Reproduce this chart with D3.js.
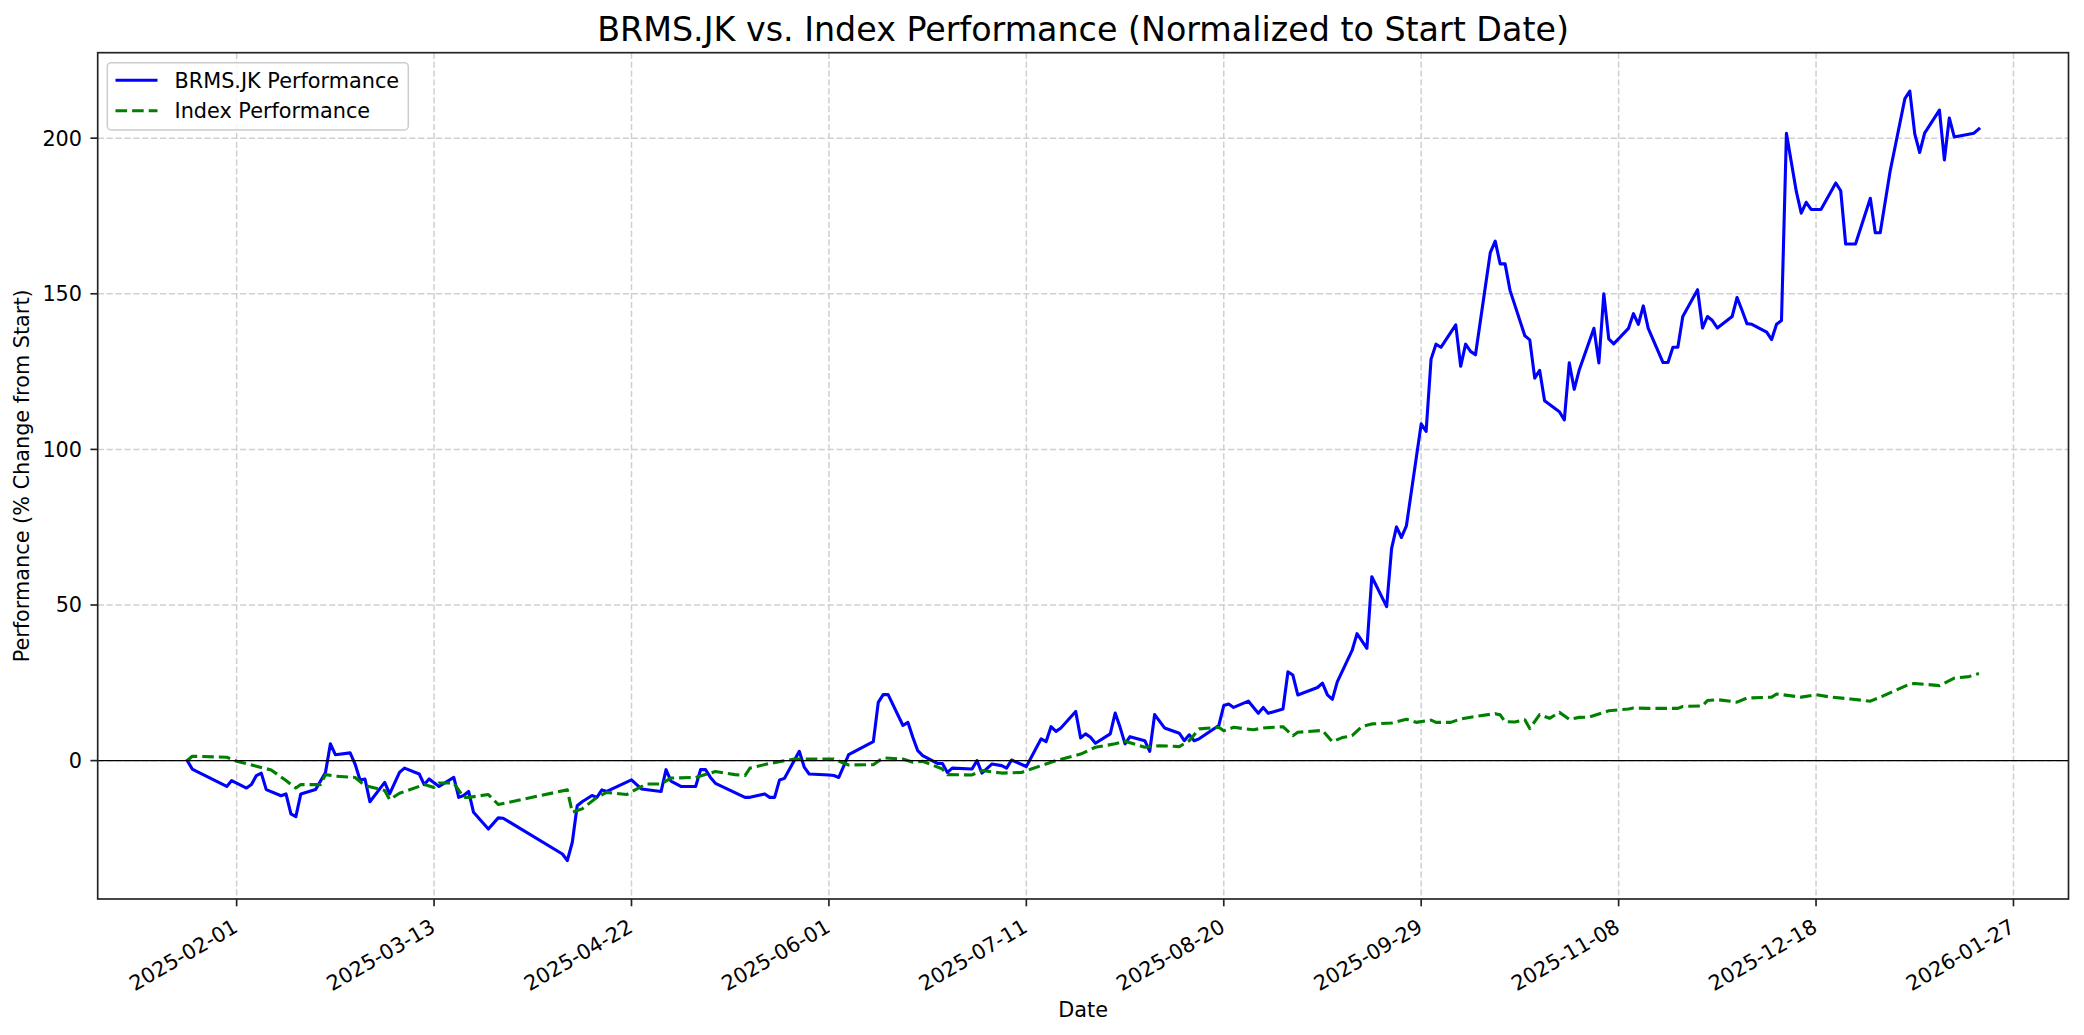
<!DOCTYPE html>
<html>
<head>
<meta charset="utf-8">
<script src="https://cdn.jsdelivr.net/npm/d3@7"></script>
<style>
  html, body { margin: 0; padding: 0; background: #fff; }
  svg { display: block; }
  text { font-family: "DejaVu Sans", sans-serif; }
</style>
</head>
<body>
<div id="chart"></div>
<script>
// ---------------- DATA ----------------
const chartTitle = "BRMS.JK vs. Index Performance (Normalized to Start Date)";
const seriesNames = ["BRMS.JK Performance", "Index Performance"];

const stockDates = [
"2025-01-22","2025-01-23","2025-01-24","2025-01-30","2025-01-31",
"2025-02-03","2025-02-04","2025-02-05","2025-02-06","2025-02-07",
"2025-02-10","2025-02-11","2025-02-12","2025-02-13","2025-02-14",
"2025-02-17","2025-02-19","2025-02-20","2025-02-21",
"2025-02-24","2025-02-25","2025-02-26","2025-02-27","2025-02-28",
"2025-03-03","2025-03-04","2025-03-06","2025-03-07",
"2025-03-10","2025-03-11","2025-03-12","2025-03-14",
"2025-03-17","2025-03-18","2025-03-19","2025-03-20","2025-03-21",
"2025-03-24","2025-03-26","2025-03-27",
"2025-04-08","2025-04-09","2025-04-10","2025-04-11","2025-04-12",
"2025-04-14","2025-04-15","2025-04-16","2025-04-17",
"2025-04-22","2025-04-24","2025-04-28","2025-04-29","2025-04-30",
"2025-05-02","2025-05-05","2025-05-06","2025-05-07","2025-05-08","2025-05-09",
"2025-05-15","2025-05-16","2025-05-19","2025-05-20","2025-05-21","2025-05-22","2025-05-23",
"2025-05-26","2025-05-27","2025-05-28",
"2025-06-01","2025-06-02","2025-06-03","2025-06-05",
"2025-06-10","2025-06-11","2025-06-12","2025-06-13",
"2025-06-16","2025-06-17","2025-06-18","2025-06-19","2025-06-20",
"2025-06-23","2025-06-24","2025-06-25","2025-06-26",
"2025-06-30","2025-07-01","2025-07-02","2025-07-04",
"2025-07-06","2025-07-07","2025-07-08","2025-07-11",
"2025-07-14","2025-07-15","2025-07-16","2025-07-17","2025-07-18",
"2025-07-21","2025-07-22","2025-07-23","2025-07-24","2025-07-25",
"2025-07-28","2025-07-29","2025-07-30","2025-07-31","2025-08-01",
"2025-08-04","2025-08-05","2025-08-06","2025-08-08",
"2025-08-11","2025-08-12","2025-08-13","2025-08-14","2025-08-15",
"2025-08-19","2025-08-20","2025-08-21","2025-08-22",
"2025-08-25","2025-08-27","2025-08-28","2025-08-29",
"2025-09-01","2025-09-02","2025-09-03","2025-09-04",
"2025-09-08","2025-09-09","2025-09-10","2025-09-11","2025-09-12",
"2025-09-15","2025-09-16","2025-09-18","2025-09-19",
"2025-09-22","2025-09-23","2025-09-24","2025-09-25","2025-09-26",
"2025-09-29","2025-09-30","2025-10-01","2025-10-02","2025-10-03",
"2025-10-06","2025-10-07","2025-10-08","2025-10-09","2025-10-10",
"2025-10-13","2025-10-14","2025-10-15","2025-10-16","2025-10-17",
"2025-10-20","2025-10-21","2025-10-22","2025-10-23","2025-10-24",
"2025-10-27","2025-10-28","2025-10-29","2025-10-30","2025-10-31",
"2025-11-03","2025-11-04","2025-11-05","2025-11-06","2025-11-07",
"2025-11-10","2025-11-11","2025-11-12","2025-11-13","2025-11-14",
"2025-11-17","2025-11-18","2025-11-19","2025-11-20","2025-11-21",
"2025-11-24","2025-11-25","2025-11-26","2025-11-27","2025-11-28",
"2025-12-01","2025-12-02","2025-12-03","2025-12-04","2025-12-05",
"2025-12-08","2025-12-09","2025-12-10","2025-12-11","2025-12-12",
"2025-12-14","2025-12-15","2025-12-16","2025-12-17","2025-12-19",
"2025-12-22","2025-12-23","2025-12-24","2025-12-26",
"2025-12-29","2025-12-30","2025-12-31","2026-01-02",
"2026-01-05","2026-01-06","2026-01-07","2026-01-08","2026-01-09",
"2026-01-12","2026-01-13","2026-01-14","2026-01-15",
"2026-01-19","2026-01-20"
];

const stockValues = [
0, -2.7, -3.5, -8.3, -6.4,
-8.8, -7.7, -4.8, -4.0, -9.3,
-11.3, -10.7, -17.1, -18.0, -10.7,
-9.3, -3.8, 5.4, 1.9,
2.5, -1.1, -6.2, -5.9, -13.2,
-7.0, -10.7, -3.8, -2.4,
-4.3, -7.7, -5.9, -8.3,
-5.4, -11.8, -11.2, -9.9, -16.6,
-22.0, -18.4, -18.5,
-30.0, -32.1, -26.3, -14.5, -13.2,
-11.2, -11.8, -9.4, -9.9,
-6.2, -9.1, -9.9, -2.9, -6.6,
-8.3, -8.3, -2.9, -2.9, -5.4, -7.3,
-11.8, -11.8, -10.7, -11.8, -11.8, -6.2, -5.7,
3.0, -2.1, -4.3,
-4.6, -4.8, -5.4, 1.9,
6.1, 18.7, 21.2, 21.2,
11.3, 12.3, 7.5, 3.2, 1.6,
-0.9, -0.9, -3.8, -2.4,
-2.7, 0, -4.0, -1.1,
-1.6, -2.4, 0.2, -1.9,
7.0, 6.1, 10.9, 9.4, 10.5,
15.8, 7.3, 8.6, 7.5, 5.6,
8.6, 15.3, 10.7, 5.4, 7.7,
6.4, 3.0, 14.8, 10.5,
8.8, 6.4, 8.3, 6.4, 7.0,
11.3, 17.7, 18.2, 17.1,
19.1, 15.2, 17.1, 15.2,
16.6, 28.5, 27.5, 21.1,
23.5, 24.9, 21.1, 19.7, 25.3,
35.4, 40.8, 36.1, 59.1,
49.5, 68.1, 75.1, 71.7, 75.4,
108.2, 105.8, 129.0, 133.8, 132.8,
140.0, 126.7, 133.8, 131.5, 130.4,
163.2, 166.9, 159.6, 159.6, 151.1,
136.5, 135.2, 122.9, 125.4, 115.6,
112.1, 109.5, 127.8, 119.3, 125.4,
138.9, 127.8, 150.0, 135.5, 133.9,
138.9, 143.6, 140.2, 146.1, 138.9,
127.9, 127.9, 132.8, 132.8, 142.7,
151.3, 139.0, 142.7, 141.4, 139.0,
142.7, 148.8, 144.7, 140.4, 140.2,
137.7, 135.3, 140.2, 141.4, 201.6,
182.9, 175.9, 179.4, 177.1, 177.1,
185.6, 183.1, 166.0, 166.0,
180.7, 169.6, 169.6, 189.3,
212.7, 215.1, 201.4, 195.4, 201.6,
209.0, 193.0, 206.5, 200.4,
201.6, 203.0
];

const indexDates = [
"2025-01-22","2025-01-23","2025-01-30","2025-02-01","2025-02-05",
"2025-02-08","2025-02-11","2025-02-13","2025-02-14","2025-02-18",
"2025-02-19","2025-02-21","2025-02-25","2025-02-27","2025-03-03",
"2025-03-04","2025-03-06","2025-03-11","2025-03-13","2025-03-14",
"2025-03-17","2025-03-19","2025-03-20","2025-03-24","2025-03-26",
"2025-04-09","2025-04-10","2025-04-12","2025-04-15","2025-04-17",
"2025-04-21","2025-04-25","2025-04-28","2025-04-30","2025-05-05",
"2025-05-09","2025-05-13","2025-05-15","2025-05-16","2025-05-20",
"2025-05-25","2025-06-02","2025-06-05","2025-06-10","2025-06-12",
"2025-06-16","2025-06-18","2025-06-20","2025-06-24","2025-06-25",
"2025-06-30","2025-07-02","2025-07-06","2025-07-10","2025-07-12",
"2025-07-17","2025-07-22","2025-07-25","2025-07-29","2025-07-31",
"2025-08-04","2025-08-07","2025-08-11","2025-08-13","2025-08-15",
"2025-08-19","2025-08-20","2025-08-22","2025-08-26","2025-08-28",
"2025-09-01","2025-09-03","2025-09-04","2025-09-09","2025-09-11",
"2025-09-13","2025-09-15","2025-09-17","2025-09-19","2025-09-23",
"2025-09-26","2025-09-28","2025-10-01","2025-10-02","2025-10-05",
"2025-10-07","2025-10-10","2025-10-14","2025-10-15","2025-10-16",
"2025-10-18","2025-10-20","2025-10-21","2025-10-23","2025-10-25",
"2025-10-27","2025-10-29","2025-10-31","2025-11-02","2025-11-06",
"2025-11-10","2025-11-11","2025-11-14","2025-11-20","2025-11-21",
"2025-11-25","2025-11-26","2025-11-28","2025-12-02","2025-12-04",
"2025-12-09","2025-12-10","2025-12-15","2025-12-18","2025-12-21",
"2025-12-25","2025-12-29","2025-12-31","2026-01-06","2026-01-07",
"2026-01-12","2026-01-15","2026-01-18","2026-01-20"
];

const indexValues = [
0, 1.4, 1.1, -0.2, -1.8,
-3.0, -6.4, -8.8, -7.7, -7.7,
-4.5, -5.0, -5.4, -8.0, -9.6,
-12.5, -10.5, -7.7, -8.6, -7.2,
-7.2, -11.8, -11.8, -10.9, -14.1,
-9.4, -16.6, -15.5, -11.8, -10.2,
-10.9, -7.5, -7.5, -5.6, -5.4,
-3.5, -4.5, -4.8, -2.4, -0.9,
0.5, 0.5, -1.4, -1.3, 0.9,
0.5, -0.5, -0.2, -2.7, -4.5,
-4.6, -3.2, -4.0, -3.8, -2.7,
0, 2.1, 4.3, 5.4, 6.2,
4.3, 4.8, 4.5, 6.4, 10.2,
10.7, 9.6, 10.7, 9.9, 10.5,
10.9, 8.0, 9.1, 9.7, 6.1,
7.4, 8.0, 11.0, 11.8, 12.1,
13.3, 12.3, 13.0, 12.3, 12.3,
13.4, 14.2, 15.1, 14.7, 12.5,
12.4, 13.1, 10.3, 14.8, 13.6,
15.5, 13.3, 13.9, 14.0, 16.0,
16.6, 16.9, 16.8, 16.8, 17.4,
17.6, 19.3, 19.6, 18.8, 20.1,
20.4, 21.4, 20.4, 21.2, 20.4,
19.8, 19.1, 20.4, 24.6, 24.8,
24.1, 26.5, 27.0, 28.0
];

const xTickLabels = ["2025-02-01","2025-03-13","2025-04-22","2025-06-01","2025-07-11",
                     "2025-08-20","2025-09-29","2025-11-08","2025-12-18","2026-01-27"];
const yTickValues = [0, 50, 100, 150, 200];
const xAxisLabel = "Date";
const yAxisLabel = "Performance (% Change from Start)";

// ---------------- DRAWING ----------------
const W = 2084, H = 1035;
const plot = { left: 97.7, right: 2068.5, top: 52.7, bottom: 899 };
const parse = d3.timeParse("%Y-%m-%d");

const stock = stockDates.map((d, i) => ({ date: parse(d), v: stockValues[i] }));
const index = indexDates.map((d, i) => ({ date: parse(d), v: indexValues[i] }));
const all = stock.concat(index);

const tExt = d3.extent(all, d => +d.date);
const tPad = (tExt[1] - tExt[0]) * 0.05;
const vExt = d3.extent(all, d => d.v);
const vPad = (vExt[1] - vExt[0]) * 0.05;

const x = d3.scaleTime()
  .domain([new Date(tExt[0] - tPad), new Date(tExt[1] + tPad)])
  .range([plot.left, plot.right]);
const y = d3.scaleLinear()
  .domain([vExt[0] - vPad, vExt[1] + vPad])
  .range([plot.bottom, plot.top]);

const svg = d3.select("#chart").append("svg")
  .attr("width", W).attr("height", H)
  .attr("viewBox", `0 0 ${W} ${H}`);

svg.append("rect").attr("width", W).attr("height", H).attr("fill", "#fff");

const xTicks = xTickLabels.map(parse);

// grid
const grid = svg.append("g");
grid.selectAll("line.gx").data(xTicks).enter().append("line")
  .attr("x1", d => x(d)).attr("x2", d => x(d))
  .attr("y1", plot.top).attr("y2", plot.bottom)
  .attr("stroke", "#d0d0d0").attr("stroke-width", 1.5)
  .attr("stroke-dasharray", "6.2,2.7");
grid.selectAll("line.gy").data(yTickValues).enter().append("line")
  .attr("x1", plot.left).attr("x2", plot.right)
  .attr("y1", d => y(d)).attr("y2", d => y(d))
  .attr("stroke", "#d0d0d0").attr("stroke-width", 1.5)
  .attr("stroke-dasharray", "6.2,2.7");

// clip
svg.append("clipPath").attr("id", "clip").append("rect")
  .attr("x", plot.left).attr("y", plot.top)
  .attr("width", plot.right - plot.left).attr("height", plot.bottom - plot.top);

const line = d3.line().x(d => x(d.date)).y(d => y(d.v));
const lines = svg.append("g").attr("clip-path", "url(#clip)");

lines.append("path").datum(stock)
  .attr("d", line).attr("fill", "none")
  .attr("stroke", "#0000ff").attr("stroke-width", 3.1)
  .attr("stroke-linejoin", "round").attr("stroke-linecap", "square");

lines.append("path").datum(index)
  .attr("d", line).attr("fill", "none")
  .attr("stroke", "#008000").attr("stroke-width", 3.1)
  .attr("stroke-linejoin", "round").attr("stroke-linecap", "butt")
  .attr("stroke-dasharray", "11.6,5");

// zero reference line
lines.append("line")
  .attr("x1", plot.left).attr("x2", plot.right)
  .attr("y1", y(0)).attr("y2", y(0))
  .attr("stroke", "#000").attr("stroke-width", 1.4);

// spines
svg.append("rect")
  .attr("x", plot.left).attr("y", plot.top)
  .attr("width", plot.right - plot.left).attr("height", plot.bottom - plot.top)
  .attr("fill", "none").attr("stroke", "#222").attr("stroke-width", 1.67);

// x ticks
const xt = svg.append("g");
xt.selectAll("line").data(xTicks).enter().append("line")
  .attr("x1", d => x(d)).attr("x2", d => x(d))
  .attr("y1", plot.bottom).attr("y2", plot.bottom + 7.3)
  .attr("stroke", "#222").attr("stroke-width", 1.67);
xt.selectAll("text").data(xTicks).enter().append("text")
  .attr("transform", d => `translate(${x(d) + 2.7},${931}) rotate(-30)`)
  .attr("text-anchor", "end")
  .attr("font-size", 20.8).attr("fill", "#000")
  .text((d, i) => xTickLabels[i]);

// y ticks
const yt = svg.append("g");
yt.selectAll("line").data(yTickValues).enter().append("line")
  .attr("x1", plot.left - 7.3).attr("x2", plot.left)
  .attr("y1", d => y(d)).attr("y2", d => y(d))
  .attr("stroke", "#222").attr("stroke-width", 1.67);
yt.selectAll("text").data(yTickValues).enter().append("text")
  .attr("x", plot.left - 15.6).attr("y", d => y(d))
  .attr("dy", "0.36em")
  .attr("text-anchor", "end")
  .attr("font-size", 20.8).attr("fill", "#000")
  .text(d => d);

// axis labels
svg.append("text")
  .attr("x", (plot.left + plot.right) / 2).attr("y", 1017)
  .attr("text-anchor", "middle").attr("font-size", 20.8)
  .text(xAxisLabel);
svg.append("text")
  .attr("transform", `translate(28.5,${(plot.top + plot.bottom) / 2}) rotate(-90)`)
  .attr("text-anchor", "middle").attr("font-size", 20.8)
  .text(yAxisLabel);

// title
svg.append("text")
  .attr("x", (plot.left + plot.right) / 2).attr("y", 41)
  .attr("text-anchor", "middle").attr("font-size", 33.3)
  .text(chartTitle);

// legend
const lg = svg.append("g");
lg.append("rect")
  .attr("x", 107.3).attr("y", 62.7).attr("width", 301).attr("height", 67.3)
  .attr("rx", 4).attr("fill", "#fff").attr("fill-opacity", 0.8)
  .attr("stroke", "#cccccc").attr("stroke-width", 1.5);
const legendItems = [
  { name: seriesNames[0], color: "#0000ff", dash: null },
  { name: seriesNames[1], color: "#008000", dash: "11.6,5" }
];
legendItems.forEach((it, i) => {
  const ly = 80.3 + i * 30.4;
  const l = lg.append("line")
    .attr("x1", 115.5).attr("x2", 157.5).attr("y1", ly).attr("y2", ly)
    .attr("stroke", it.color).attr("stroke-width", 3.1);
  if (it.dash) l.attr("stroke-dasharray", it.dash);
  lg.append("text")
    .attr("x", 174.5).attr("y", ly).attr("dy", "0.36em")
    .attr("font-size", 20.8).attr("fill", "#000")
    .text(it.name);
});
</script>
</body>
</html>
